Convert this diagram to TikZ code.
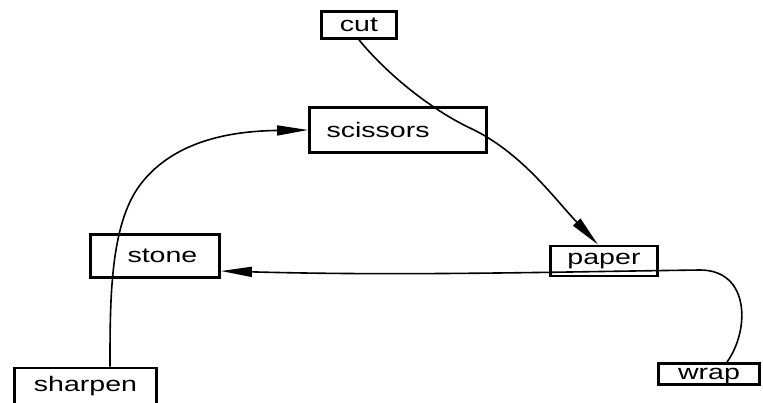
\documentclass[tikz,border=0pt]{standalone}
\usepackage{fontspec}
\setmainfont{Liberation Sans}[FakeStretch=1.36]
\usetikzlibrary{arrows.meta}
\begin{document}
\begin{tikzpicture}[x=1pt,y=-1pt,
  box/.style={draw,line width=2.8pt,inner sep=0pt,font=\fontsize{21}{25}\selectfont},
  link/.style={line width=1.6pt,-{Triangle[length=31pt,width=10pt]}}]
\useasboundingbox (0,0) rectangle (763,402);
\node[box,minimum width=75pt,minimum height=27pt] (cut) at (359,25) {cut};
\node[box,minimum height=45pt,inner xsep=17pt,text width=143pt,align=left] (scissors) at (398,130) {scissors};
\node[box,minimum height=43pt,inner xsep=22pt,text width=85pt,align=left] (stone) at (155,256) {\hspace*{15pt}stone};
\node[box,minimum width=107pt,minimum height=30pt] (paper) at (604,261) {paper};
\node[box,minimum width=142pt,minimum height=36pt] (sharpen) at (85.5,386) {sharpen};
\node[box,minimum width=101pt,minimum height=21pt,text depth=1pt] (wrap) at (709,374) {wrap};
\draw[link] (cut.south) .. controls (392,80) and (438,113) .. (470,128)
  .. controls (521,152) and (553,197) .. ([xshift=-6pt]paper.north);
\draw[link] ([xshift=24.5pt]sharpen.north) .. controls (110,300) and (110,225) .. (140,185)
  .. controls (176,137) and (240,131) .. (scissors.west);
\draw[link] ([xshift=18pt]wrap.north) .. controls (750,330) and (750,270) .. (700,270)
  .. controls (550,272) and (400,276) .. ([yshift=-15pt]stone.east);
\end{tikzpicture}
\end{document}
